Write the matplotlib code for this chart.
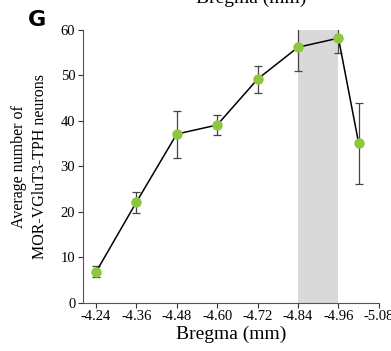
import numpy as np
import matplotlib
matplotlib.use("Agg")
from matplotlib import pyplot as plt

# values
bregma = [-4.24, -4.36, -4.48, -4.60, -4.72, -4.84, -4.96, -5.02]
mean_n = [6.7, 22.1, 37.1, 39.1, 49.2, 56.2, 58.2, 35.1]
err_up = [1.4, 2.2, 5.1, 2.2, 2.8, 4.7, 3.2, 8.8]
err_dn = [1.1, 2.4, 5.2, 2.2, 3.0, 5.2, 3.3, 8.9]
xticks = [-4.24, -4.36, -4.48, -4.60, -4.72, -4.84, -4.96, -5.08]
yticks = [0, 10, 20, 30, 40, 50, 60]
shade = (-4.84, -4.96)

plt.rcParams['font.family'] = ['Liberation Serif', 'DejaVu Serif']

fig = plt.figure(figsize=(3.91, 3.51), dpi=100)
ax = fig.add_axes([0.212, 0.1376, 0.757, 0.777])

ax.axvspan(shade[0], shade[1], ymin=0, ymax=1.0, color='#d9d9d9', lw=0, zorder=0)
ax.errorbar(bregma, mean_n, yerr=[err_dn, err_up], fmt='none', ecolor='#444444',
            elinewidth=0.9, capsize=3, capthick=0.9, zorder=2)
ax.plot(bregma, mean_n, color='black', lw=1.1, zorder=3)
ax.plot(bregma, mean_n, 'o', color='#8dc63f', ms=6.5, mec='#8dc63f', zorder=4)

ax.set_xlim(-4.2014, -5.08)
ax.set_ylim(0, 60)
ax.set_xticks(xticks)
ax.set_xticklabels([f"{t:.2f}" for t in xticks])
ax.set_yticks(yticks)
ax.tick_params(direction='out', length=3.5, width=0.8, colors='#333333', labelsize=10.5,
               labelcolor='black', pad=2)
for s in ['top', 'right']:
    ax.spines[s].set_visible(False)
for s in ['left', 'bottom']:
    ax.spines[s].set_color('#555555')
    ax.spines[s].set_linewidth(0.8)

ax.set_xlabel('Bregma (mm)', fontsize=14, labelpad=2)
ax.set_ylabel('Average number of\nMOR-VGluT3-TPH neurons', fontsize=11.5, labelpad=9,
              linespacing=1.45)

# cut-off label from the panel above
fig.text(251 / 391, 1.004, 'Bregma (mm)', fontsize=14, ha='center', va='center')
fig.text(28 / 391, 1 - 20 / 351, 'G', fontsize=16, fontweight='bold',
         family='DejaVu Sans', ha='left', va='center')

fig.savefig('out.png', dpi=100)
